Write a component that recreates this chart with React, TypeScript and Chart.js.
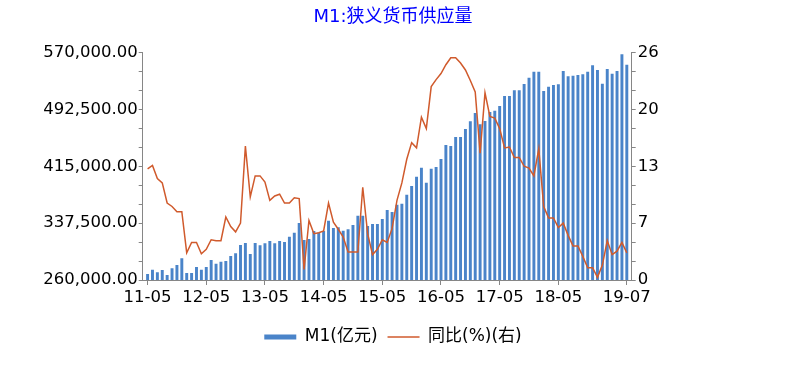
import React, { useEffect, useRef } from 'react';
import { Chart, registerables } from 'chart.js';

Chart.register(...registerables);

// ---- data ----
const START_YEAR = 2011;
const START_MONTH = 5;
const MONTH_COUNT = 99;

const months: string[] = [];
for (let i = 0; i < MONTH_COUNT; i++) {
  const t = START_MONTH - 1 + i;
  const y = START_YEAR + Math.floor(t / 12);
  const m = (t % 12) + 1;
  months.push(`${String(y).slice(2)}-${String(m).padStart(2, '0')}`);
}

const xTickLabels = ['11-05', '12-05', '13-05', '14-05', '15-05', '16-05', '17-05', '18-05', '19-07'];

// M1 (亿元)
const m1Values = [
  268200, 274100, 270500, 273600, 266800, 275900, 280400, 289500,
  269500, 269500, 277700, 274100, 277700, 287300, 282200, 285000, 285900, 292700, 296300, 307700,
  310400, 295400, 310400, 307200, 310000, 313100, 310000, 313100, 311800, 319000, 324500, 337700,
  314500, 315900, 326800, 324500, 326800, 340800, 330900, 331800, 327200, 329000, 334900, 347700,
  347700, 333600, 336300, 336300, 343100, 355400, 352700, 362600, 364000, 376300, 388100, 400800,
  413100, 392600, 411700, 414000, 424900, 444000, 442600, 454900, 454900, 465800, 476200, 487600,
  472100, 476700, 488900, 490700, 497100, 510700, 510700, 518400, 518400, 527100, 535700, 543900,
  543900, 517500, 523400, 525700, 526600, 544800, 537500, 538400, 539300, 540200, 543900, 552500,
  546100, 527500, 547500, 541100, 544800, 567500, 553400,
];

// 同比 (%)
const yoyValues = [
  12.7, 13.1, 11.6, 11.1, 8.8, 8.4, 7.8, 7.8,
  3.1, 4.3, 4.3, 3.0, 3.5, 4.6, 4.5, 4.5, 7.2, 6.1, 5.5, 6.5,
  15.3, 9.5, 11.9, 11.9, 11.2, 9.1, 9.6, 9.8, 8.8, 8.8, 9.4, 9.3,
  1.2, 6.8, 5.3, 5.4, 5.6, 8.8, 6.6, 5.8, 4.9, 3.2, 3.2, 3.2,
  10.6, 5.3, 2.9, 3.5, 4.6, 4.3, 5.9, 9.1, 11.1, 13.8, 15.7, 15.1,
  18.6, 17.3, 22.1, 22.9, 23.6, 24.6, 25.4, 25.4, 24.8, 24.0, 22.8, 21.5,
  14.5, 21.4, 18.7, 18.5, 17.3, 15.1, 15.2, 14.0, 14.0, 13.0, 12.8, 11.9,
  15.0, 8.4, 7.1, 7.1, 6.0, 6.5, 5.1, 3.9, 3.9, 2.7, 1.4, 1.4,
  0.3, 1.7, 4.5, 2.9, 3.3, 4.3, 3.1,
];

const leftMin = 260000;
const leftMax = 570000;
const rightMin = 0;
const rightMax = 26;

const titleText = 'M1:狭义货币供应量';
const barLabel = 'M1(亿元)';
const lineLabel = '同比(%)(右)';

const BAR_COLOR = '#4a84c9';
const LINE_COLOR = '#d05a2c';
const AXIS_COLOR = '#868686';
const FONT = "'DejaVu Sans', 'Noto Sans CJK SC', sans-serif";

export default function App() {
  const canvasRef = useRef<HTMLCanvasElement | null>(null);

  useEffect(() => {
    document.body.style.margin = '0';
    const canvas = canvasRef.current;
    if (!canvas) return;

    // pad one empty category at each end (the axis leaves a full category of room)
    const xLabels = [' ', ...months, '  '];
    const barData = [null, ...m1Values, null];
    const lineData = [null, ...yoyValues, null];
    const showTick = (i: number) => xTickLabels.includes(xLabels[i]);

    const chart = new Chart(canvas, {
      type: 'bar',
      data: {
        labels: xLabels,
        datasets: [
          {
            type: 'line',
            label: lineLabel,
            data: lineData as any,
            yAxisID: 'y1',
            borderColor: LINE_COLOR,
            backgroundColor: LINE_COLOR,
            borderWidth: 1.5,
            pointRadius: 0,
            tension: 0,
            order: 0,
          } as any,
          {
            type: 'bar',
            label: barLabel,
            data: barData as any,
            yAxisID: 'y',
            backgroundColor: BAR_COLOR,
            borderWidth: 0,
            barPercentage: 0.6,
            categoryPercentage: 1,
            order: 1,
          } as any,
        ],
      },
      options: {
        responsive: false,
        animation: false,
        devicePixelRatio: 1,
        color: '#000',
        font: { family: FONT },
        layout: { padding: { left: 0, right: 0, top: 0, bottom: 20.5 } },
        plugins: {
          title: {
            display: true,
            text: titleText,
            color: '#0000ff',
            font: { family: FONT, size: 18, weight: 'normal' },
            padding: { top: 6.7, bottom: 24.2 },
          },
          legend: {
            display: true,
            position: 'bottom',
            reverse: true,
            labels: {
              color: '#000',
              font: { family: FONT, size: 17 },
              usePointStyle: true,
              pointStyleWidth: 32,
              boxHeight: 5,
              padding: 10,
              generateLabels: (c: any) => {
                const items = (Chart.defaults.plugins.legend.labels as any).generateLabels(c);
                items.forEach((it: any) => {
                  if (it.datasetIndex === 0) {
                    it.pointStyle = 'line';
                    it.lineWidth = 1.5;
                    it.strokeStyle = LINE_COLOR;
                  } else {
                    it.pointStyle = 'rect';
                    it.lineWidth = 0;
                    it.fillStyle = BAR_COLOR;
                  }
                });
                return items;
              },
            },
          },
          tooltip: { enabled: false },
        },
        scales: {
          x: {
            type: 'category',
            offset: false,
            grid: {
              display: true,
              drawOnChartArea: false,
              drawTicks: true,
              tickLength: 5,
              offset: false,
              color: (ctx: any) => (showTick(ctx.index) ? AXIS_COLOR : 'rgba(0,0,0,0)'),
            },
            border: { display: true, color: AXIS_COLOR, width: 1 },
            ticks: {
              autoSkip: false,
              maxRotation: 0,
              minRotation: 0,
              padding: 3,
              color: '#000',
              font: { family: FONT, size: 16.5 },
              callback: (_v: any, i: number) => (showTick(i) ? xLabels[i] : ''),
            },
            afterFit: (s: any) => {
              s.height = 38.5;
            },
          },
          y: {
            type: 'linear',
            position: 'left',
            min: leftMin,
            max: leftMax,
            grid: { display: true, drawOnChartArea: false, drawTicks: true, tickLength: 4, color: AXIS_COLOR },
            border: { display: true, color: AXIS_COLOR, width: 1 },
            ticks: {
              count: 13,
              maxTicksLimit: 20,
              autoSkip: false,
              padding: 1,
              color: '#000',
              font: { family: FONT, size: 16.5 },
              callback: (v: any, i: number) =>
                i % 3 === 0
                  ? Number(v).toLocaleString('en-US', { minimumFractionDigits: 2, maximumFractionDigits: 2 })
                  : '',
            },
            afterFit: (s: any) => {
              s.width = 142.7;
            },
          },
          y1: {
            type: 'linear',
            position: 'right',
            min: rightMin,
            max: rightMax,
            grid: { display: true, drawOnChartArea: false, drawTicks: true, tickLength: 4, color: AXIS_COLOR },
            border: { display: true, color: AXIS_COLOR, width: 1 },
            ticks: {
              count: 13,
              maxTicksLimit: 20,
              autoSkip: false,
              padding: 2,
              color: '#000',
              font: { family: FONT, size: 16.5 },
              callback: (v: any, i: number) => (i % 3 === 0 ? String(Math.round(Number(v) + 1e-9)) : ''),
            },
            afterFit: (s: any) => {
              s.width = 786 - 631.7;
            },
          },
        },
      } as any,
    });

    return () => chart.destroy();
  }, []);

  return (
    <div style={{ width: 786, height: 376 }}>
      <canvas ref={canvasRef} width={786} height={376} style={{ display: 'block' }} />
    </div>
  );
}
